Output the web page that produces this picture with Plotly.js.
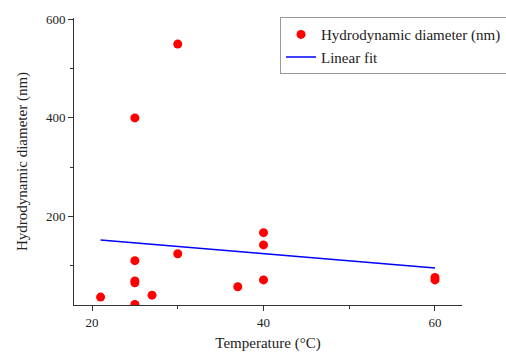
<!DOCTYPE html>
<html>
<head>
<meta charset="utf-8">
<script src="https://cdn.plot.ly/plotly-3.0.1.min.js"></script>
<style>html,body{margin:0;padding:0;background:#fff;}#chart{width:506px;height:352px;}</style>
</head>
<body>
<div id="chart"></div>
<script>
const temperature = [21, 25, 25, 25, 25, 25, 27, 30, 30, 37, 40, 40, 40, 60, 60];
const diameter = [36, 400, 110, 69, 65, 21, 40, 550, 124, 57, 167, 142, 71, 76, 71];
const fitX = [21, 60];
const fitY = [152, 95];
const xTicks = [20, 40, 60];
const yTicks = [200, 400, 600];

const font = {family: '"Liberation Serif", "Times New Roman", serif', color: '#222'};

const traces = [
  {x: temperature, y: diameter, type: 'scatter', mode: 'markers', name: 'Hydrodynamic diameter (nm)',
   marker: {color: '#ff0000', size: 9}},
  {x: fitX, y: fitY, type: 'scatter', mode: 'lines', name: 'Linear fit',
   line: {color: '#0000ff', width: 1.5}}
];

const axisCommon = {showgrid: false, zeroline: false, showline: true, linecolor: '#333', linewidth: 1,
  ticks: 'outside', ticklen: 5, tickcolor: '#333', tickfont: {family: font.family, size: 13, color: '#222'}};

const layout = {
  width: 506, height: 352,
  margin: {l: 74, r: 44, t: 18, b: 47, autoexpand: false},
  paper_bgcolor: '#fff', plot_bgcolor: '#fff',
  font: font,
  showlegend: true,
  legend: {x: 0.531, y: 1.003, xanchor: 'left', yanchor: 'top', bgcolor: '#fff',
    bordercolor: '#999', borderwidth: 1, font: {family: font.family, size: 15, color: '#222'},
    tracegroupgap: 0, itemsizing: 'trace'},
  xaxis: Object.assign({}, axisCommon, {range: [17.9, 63.15], tickmode: 'array', tickvals: xTicks,
    minor: {ticks: 'outside', ticklen: 3, tickcolor: '#333', tickmode: 'array', tickvals: [30, 50]},
    title: {text: 'Temperature (°C)', font: {family: font.family, size: 15, color: '#222'}, standoff: 14}}),
  yaxis: Object.assign({}, axisCommon, {range: [20, 603], tickmode: 'array', tickvals: yTicks,
    minor: {ticks: 'outside', ticklen: 3, tickcolor: '#333', tickmode: 'array', tickvals: [100, 300, 500]},
    title: {text: 'Hydrodynamic diameter (nm)', font: {family: font.family, size: 15, color: '#222'}, standoff: 14}})
};

Plotly.newPlot('chart', traces, layout, {displayModeBar: false, staticPlot: true});
</script>
</body>
</html>
